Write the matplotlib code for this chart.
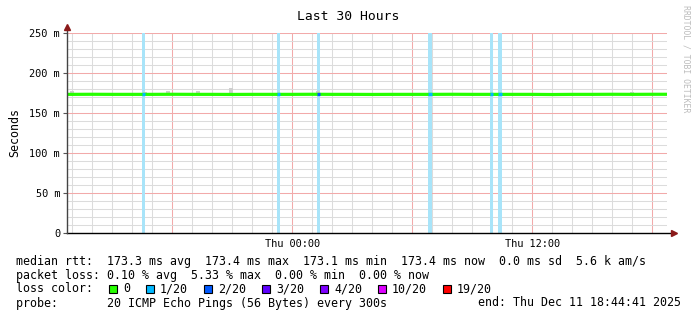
import numpy as np
import matplotlib
matplotlib.use("Agg")
import matplotlib.pyplot as plt
from matplotlib.patches import Rectangle

# ---- data (hours relative to Thu 00:00) ----
t_start = -11.255          # Wed 12:44:41
t_end = 18.745             # Thu 18:44:41

median_hours = list(range(-12, 20))
median_ms = [173.3, 173.3, 173.4, 173.3, 173.3, 173.3, 173.4, 173.3, 173.3, 173.2,
             173.3, 173.3, 173.3, 173.4, 173.3, 173.3, 173.2, 173.3, 173.3, 173.3,
             173.4, 173.3, 173.3, 173.3, 173.3, 173.1, 173.3, 173.3, 173.4, 173.3,
             173.4, 173.4]

# packet loss events: centre time, duration (minutes), loss level (x/20)
loss_time = [-7.425, -0.675, 1.325, 6.9, 9.975, 10.4]
loss_minutes = [11, 11, 11, 14, 10, 13]
loss_level = [1, 1, 2, 1, 1, 1]

# smoke (ping spread) bumps above the median
smoke_time = [-11.0, -7.375, -6.2, -4.7, -3.05, -0.45, 1.3, 4.9, 6.4, 8.9, 11.4, 13.9, 15.4, 17.0]
smoke_top = [177, 176, 177, 178, 181, 175.5, 177, 175, 175, 175, 175, 175, 175, 176]

loss_labels = ["0", "1/20", "2/20", "3/20", "4/20", "10/20", "19/20"]
loss_colors = ["#26ff00", "#00b8ff", "#0059ff", "#5e00ff", "#7e00ff", "#dd00ff", "#ff0000"]

y_ticks = [0, 50, 100, 150, 200, 250]
y_labels = ["0", "50 m", "100 m", "150 m", "200 m", "250 m"]
x_ticks = [0, 12]
x_labels = ["Thu 00:00", "Thu 12:00"]

legend_lines = [
    "median rtt:  173.3 ms avg  173.4 ms max  173.1 ms min  173.4 ms now  0.0 ms sd  5.6 k am/s",
    "packet loss: 0.10 % avg  5.33 % max  0.00 % min  0.00 % now",
    "loss color:",
    "probe:       20 ICMP Echo Pings (56 Bytes) every 300s",
]
end_text = "end: Thu Dec 11 18:44:41 2025"

# ---- figure ----
W, H = 697, 321
mono = "DejaVu Sans Mono"
fig = plt.figure(figsize=(W / 100, H / 100), dpi=100)
ax = fig.add_axes([67 / W, (H - 233) / H, 600 / W, 200 / H])
ax.set_xlim(t_start, t_end)
ax.set_ylim(0, 250)

minor_c = "#dcdcdc"
major_c = "#f2aaaa"
for h in range(-11, 19):
    ax.axvline(h, color=major_c if h % 6 == 0 else minor_c, lw=0.75, zorder=1)
for v in range(10, 251, 10):
    ax.axhline(v, color=major_c if v % 50 == 0 else minor_c, lw=0.75, zorder=1)

# loss bars
for t, m, lv in zip(loss_time, loss_minutes, loss_level):
    half = m / 120
    ax.axvspan(t - half, t + half, color="#a8e4f9", lw=0, zorder=2)

# smoke
for t, top in zip(smoke_time, smoke_top):
    ax.bar(t, top - 174, width=0.2, bottom=174, color="#cfcfcf", lw=0, zorder=2)

# median line
line_end = t_end - 0.1
ax.plot([h for h in median_hours if h <= 19], median_ms, color=loss_colors[0], lw=2.3, zorder=3,
        solid_capstyle="butt")
for t, m, lv in zip(loss_time, loss_minutes, loss_level):
    half = m / 120
    ax.plot([t - half, t + half], [np.interp(t, median_hours, median_ms)] * 2,
            color=loss_colors[lv], lw=2.3, zorder=4, solid_capstyle="butt")

# axes styling
for s in ["top", "right", "left", "bottom"]:
    ax.spines[s].set_visible(False)
ax.plot([0, 1.012], [0, 0], transform=ax.transAxes, color="black", lw=1, clip_on=False, zorder=5)
ax.plot([0, 0], [0, 1.03], transform=ax.transAxes, color="#444444", lw=1, clip_on=False, zorder=5)
ax.plot([1.012], [0], transform=ax.transAxes, marker=">", color="#8b1a1a", ms=4, clip_on=False, zorder=6)
ax.plot([0], [1.03], transform=ax.transAxes, marker="^", color="#8b1a1a", ms=4, clip_on=False, zorder=6)

ax.set_yticks(y_ticks)
ax.set_yticklabels(y_labels, family=mono, fontsize=7.4)
ax.set_xticks(x_ticks)
ax.set_xticklabels(x_labels, family=mono, fontsize=7.4)
ax.tick_params(axis="y", length=3, width=0.8, color="#555555", pad=2)
ax.tick_params(axis="x", length=0, pad=4)

fig.text(348.5 / W, 1 - 16 / H, "Last 30 Hours", family=mono, fontsize=9.4, ha="center", va="center")
fig.text(15 / W, 1 - 133 / H, "Seconds", family=mono, fontsize=8.4, rotation=90, ha="center", va="center")
fig.text(686 / W, 1 - 5 / H, "RRDTOOL / TOBI OETIKER", family=mono, fontsize=5.9, color="#bcbcbc",
         rotation=-90, ha="center", va="top")

# legend
cw = 7.0
ys = [261, 275, 289, 303]
for line, y in zip(legend_lines, ys):
    fig.text(16 / W, 1 - y / H, line, family=mono, fontsize=8.37, ha="left", va="center")
fig.text(681 / W, 1 - 303 / H, end_text, family=mono, fontsize=8.37, ha="right", va="center")

bx = 109
for lab, col in zip(loss_labels, loss_colors):
    fig.patches.append(Rectangle((bx / W, 1 - 293 / H), 8 / W, 8 / H, transform=fig.transFigure,
                                 facecolor=col, edgecolor="black", lw=0.8))
    fig.text((bx + 14) / W, 1 - 289 / H, lab, family=mono, fontsize=8.37, ha="left", va="center")
    bx += 14 + cw * len(lab) + 16

fig.savefig("out.png", dpi=100)
